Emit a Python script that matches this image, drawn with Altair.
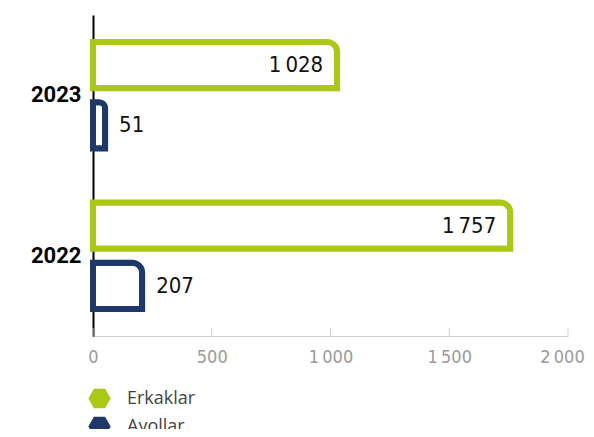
import altair as alt
import pandas as pd

years = ["2023", "2022"]
erkaklar = [1028, 1757]
ayollar = [51, 207]
series = ["Erkaklar", "Ayollar"]
colors = ["#a9c817", "#1d3869"]
ticks = [0, 500, 1000, 1500, 2000]

rows = []
for i, y in enumerate(years):
    rows.append({"year": y, "group": "Erkaklar", "value": erkaklar[i]})
    rows.append({"year": y, "group": "Ayollar", "value": ayollar[i]})
df = pd.DataFrame(rows)
df["label"] = df["value"].map(lambda v: f"{v:,}".replace(",", "\u2009"))
tick_df = pd.DataFrame({"t": ticks})

NUM_FONT = "Liberation Sans Narrow, DejaVu Sans Condensed, Roboto"

xscale = alt.Scale(domain=[0, 2000], nice=False)
yenc = alt.Y("year:N", sort=years, scale=alt.Scale(paddingInner=0, paddingOuter=0),
             axis=alt.Axis(title=None, domainColor="#000000", domainWidth=2, ticks=False,
                           labelFont="Roboto", labelFontWeight="bold", labelFontSize=22,
                           labelColor="#000000", labelPadding=12))
yoff = alt.YOffset("group:N", sort=series, scale=alt.Scale(paddingInner=0.23, paddingOuter=0.45))

hexagon = "M-1,0L-0.5,-0.866L0.5,-0.866L1,0L0.5,0.866L-0.5,0.866Z"

bars = alt.Chart(df).mark_bar(fill="white", strokeWidth=6, cornerRadiusTopRight=10).encode(
    x=alt.X("value:Q", scale=xscale,
            axis=alt.Axis(title=None, values=ticks, ticks=False, grid=False, domainColor="#d0d0d0",
                          domainWidth=1, labelFont=NUM_FONT, labelFontSize=18, labelColor="#9a9a9a",
                          labelPadding=12, labelFlush=False,
                          labelOffset={"condition": {"test": "datum.value == 2000", "value": -6}, "value": 0},
                          labelExpr="replace(format(datum.value, ','), ',', '\u2009')")),
    y=yenc,
    yOffset=yoff,
    stroke=alt.Stroke("group:N", sort=series, scale=alt.Scale(range=colors), legend=None),
)

txt_in = alt.Chart(df).transform_filter("datum.group == 'Erkaklar'").mark_text(
    align="right", dx=-14, font=NUM_FONT, fontSize=22, color="#111111", baseline="middle"
).encode(x=alt.X("value:Q", scale=xscale), y=yenc, yOffset=yoff, text="label:N")

txt_out = alt.Chart(df).transform_filter("datum.group == 'Ayollar'").mark_text(
    align="left", dx=14, font=NUM_FONT, fontSize=22, color="#111111", baseline="middle"
).encode(x=alt.X("value:Q", scale=xscale), y=yenc, yOffset=yoff, text="label:N")

tickmarks = alt.Chart(tick_df).mark_rule(color="#d0d0d0", strokeWidth=1).encode(
    x=alt.X("t:Q", scale=xscale), y=alt.value(313), y2=alt.value(321)
)

legend_layer = alt.Chart(df).mark_point(filled=True, shape=hexagon, size=0).encode(
    x=alt.X("value:Q", scale=xscale),
    fill=alt.Fill("group:N", scale=alt.Scale(domain=series, range=colors),
                  legend=alt.Legend(title=None, orient="none", legendX=-5, legendY=372,
                                    symbolType=hexagon, symbolSize=500, symbolStrokeWidth=0,
                                    symbolOpacity=1,
                                    labelFont="Open Sans", labelFontSize=18, labelColor="#444444",
                                    labelOffset=16, rowPadding=6, padding=0)),
)

chart = alt.layer(bars, tickmarks, txt_in, txt_out, legend_layer).properties(
    width=475, height=321,
    autosize=alt.AutoSizeParams(type="none"),
    padding={"left": 85, "top": 7, "right": 18, "bottom": 93},
).configure_view(stroke=None)

chart.save("out.html", embed_options={"renderer": "svg", "actions": False})
